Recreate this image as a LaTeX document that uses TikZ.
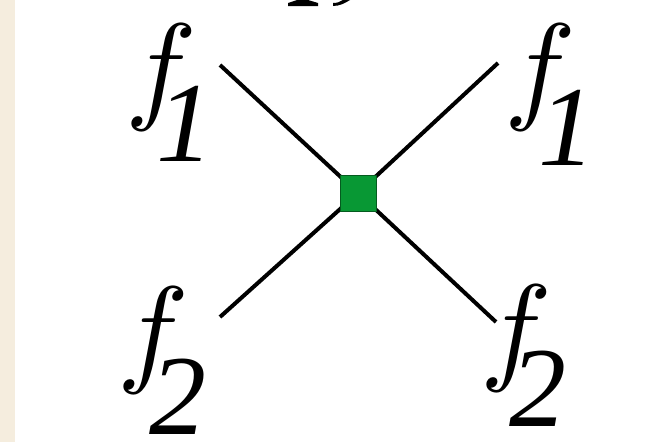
\documentclass[tikz,border=0pt]{standalone}
\usepackage{fontspec}
\setmainfont{Liberation Serif}
\definecolor{strip}{RGB}{245,237,222}
\definecolor{vgreen}{RGB}{8,152,52}
\tikzset{
  lbl/.style={anchor=base, inner sep=0pt, scale=12},
  dig/.style={anchor=base, inner sep=0pt, font=\fontsize{114}{114}\selectfont\itshape},
  leg/.style={line width=4pt, black},
  vtx/.style={fill=vgreen, minimum size=36pt, inner sep=0pt, draw=vgreen!60!black, line width=1pt}
}
\begin{document}
\begin{tikzpicture}[x=1pt,y=-1pt]
\useasboundingbox (0,0) rectangle (656,442);
\fill[white] (0,0) rectangle (656,442);
\fill[strip] (0,0) rectangle (15,442);
% clipped fragments of text above the picture
\fill[black] (297,0) -- (308,0) -- (318,3) -- (318,6) -- (288,6) -- (288,3) -- cycle;
\fill[black] (333,6) .. controls (340,6) and (345,3) .. (350,0) -- (343,0) .. controls (340,2) and (337,3) .. (333,3) -- cycle;
% vertex
\node[vtx] (v) at (358,193) {};
% leg ends
\coordinate (ul) at (220,65);
\coordinate (ur) at (498,63);
\coordinate (ll) at (220,317);
\coordinate (lr) at (496,322);
\draw[leg] (ul) -- (v.center);
\draw[leg] (ur) -- (v.center);
\draw[leg] (ll) -- (v.center);
\draw[leg] (lr) -- (v.center);
\node[vtx] (v2) at (v) {};
% labels
\node[lbl] (f1a) at (161,107) {$f$};
\node[dig] (s1a) at (185,161) {1};
\node[lbl] (f1b) at (540,107) {$f$};
\node[dig] (s1b) at (567,165) {1};
\node[lbl] (f2a) at (153,370) {$f$};
\node[dig] (s2a) at (178,434) {2};
\node[lbl] (f2b) at (516,368) {$f$};
\node[dig] (s2b) at (538,426) {2};
\end{tikzpicture}
\end{document}
